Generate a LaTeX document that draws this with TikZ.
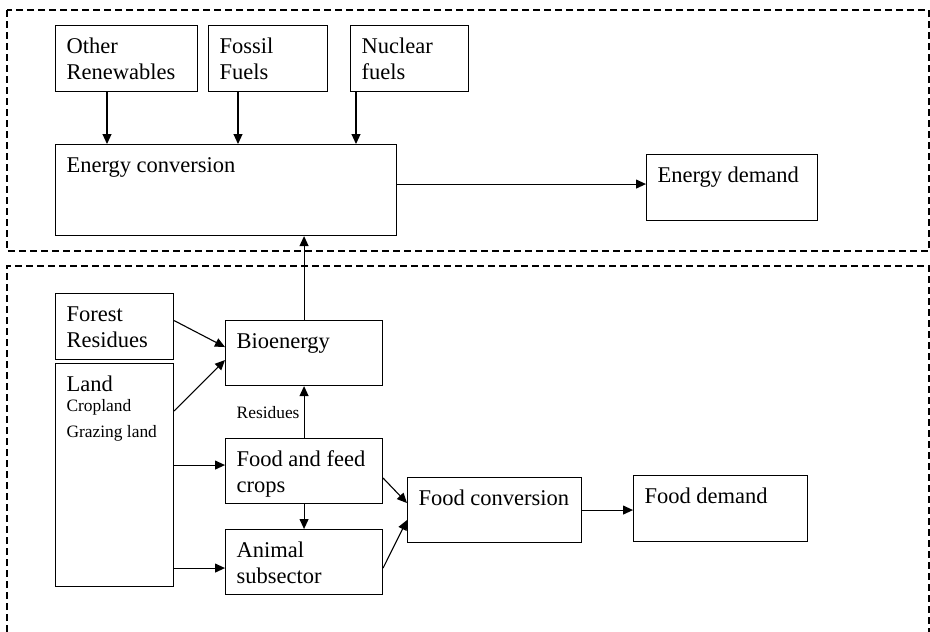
\documentclass[tikz,border=0pt]{standalone}
\usepackage{fontspec}
\setmainfont{Liberation Serif}
\usetikzlibrary{arrows.meta}

\newcommand{\bigtext}{\fontsize{22.5}{26}\selectfont}
\newcommand{\smalltext}{\fontsize{17.4}{20}\selectfont}
\hyphenpenalty=10000

\tikzset{
  box/.code 2 args={%
    \pgfmathsetlengthmacro\boxtw{#1pt-22pt}%
    \pgfmathsetlengthmacro\boxdp{#2pt-36pt}%
    \edef\boxnext{\noexpand\tikzset{text width=\boxtw, text depth=\boxdp}}\boxnext
    \tikzset{draw, line width=1.1pt, anchor=north west, align=flush left,
      inner xsep=11pt, inner ysep=8pt, text height=20pt}},
  arr/.style={line width=1.1pt, -{Triangle[length=10pt,width=9pt]}},
  frame/.style={line width=1.3pt, dash pattern=on 7pt off 4pt},
}

\begin{document}
\begin{tikzpicture}[x=1pt, y=-1pt, every node/.style={font=\bigtext}]
    \useasboundingbox (0,0) rectangle (930,632);

    % Dashed frames
    \draw[frame] (7,10) rectangle (929,251);
    \draw[frame] (7,632) -- (7,266) -- (929,266) -- (929,632);

    % Energy block
    \node[box={142}{66}] (other)   at (55,25)  {Other\\Renewables};
    \node[box={119}{66}] (fossil)  at (208,25) {Fossil\\Fuels};
    \node[box={118}{66}] (nuclear) at (350,25) {Nuclear\\fuels};
    \node[box={341}{91}] (econv)   at (55,144) {Energy conversion};
    \node[box={171}{66}] (edemand) at (646,154) {Energy demand};

    \draw[arr] ([xshift=52pt]other.south west) -- ([xshift=52pt]other.south west |- econv.north);
    \draw[arr] ([xshift=30pt]fossil.south west) -- ([xshift=30pt]fossil.south west |- econv.north);
    \draw[arr] ([xshift=6pt]nuclear.south west) -- ([xshift=6pt]nuclear.south west |- econv.north);
    \draw[arr] ([yshift=6pt]econv.east) -- ([yshift=6pt]econv.east -| edemand.west);

    % Land and food block
    \node[box={118}{66}]  (forest)  at (55,293)  {Forest\\Residues};
    \node[box={118}{223}] (land)    at (55,363)  {Land\par\smalltext Cropland\\Grazing land};
    \node[box={157}{65}]  (bio)     at (225,320) {Bioenergy};
    \node[box={157}{65}]  (crops)   at (225,438) {Food and feed\\crops};
    \node[box={157}{65}]  (animal)  at (225,529) {Animal\\subsector};
    \node[box={174}{65}]  (fconv)   at (407,477) {Food conversion};
    \node[box={174}{66}]  (fdemand) at (633,475) {Food demand};

    \draw[arr] (bio.north) -- (bio.north |- econv.south);
    \draw[arr] ([yshift=6pt]forest.east) -- ([yshift=6pt]bio.west);
    \draw[arr] ([yshift=-48pt]land.north east) -- ([yshift=-7pt]bio.west);
    \draw[arr] ([yshift=6pt]crops.west -| land.east) -- ([yshift=6pt]crops.west);
    \draw[arr] ([yshift=-6pt]animal.west -| land.east) -- ([yshift=-6pt]animal.west);
    \draw[arr] (crops.north) -- node[left, font=\smalltext, inner sep=4pt] (resid) {Residues} (bio.south);
    \draw[arr] (crops.south) -- (animal.north);
    \draw[arr] ([yshift=-7pt]crops.east) -- ([yshift=7pt]fconv.west);
    \draw[arr] ([yshift=-6pt]animal.east) -- ([yshift=-10pt]fconv.west);
    \draw[arr] (fconv.east) -- (fconv.east -| fdemand.west);

\end{tikzpicture}
\end{document}
